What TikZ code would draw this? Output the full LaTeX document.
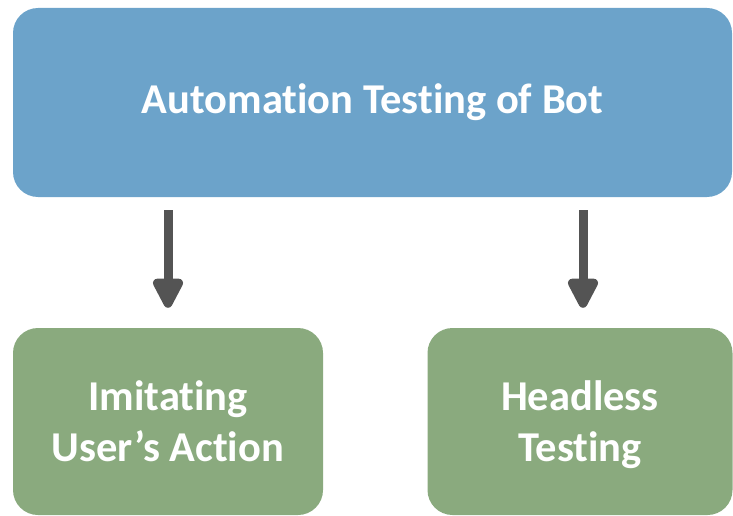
\documentclass[tikz,border=0pt]{standalone}
\usepackage{fontspec}
\setmainfont[RawFeature={-liga;-clig;-dlig;-calt}]{Carlito}
\usetikzlibrary{arrows.meta}

\definecolor{botblue}{HTML}{6CA3CA}
\definecolor{leafgreen}{HTML}{8AAA7E}
\definecolor{arrowgray}{HTML}{545454}

\tikzset{
  box/.style = {rounded corners=25pt, inner sep=0pt, text=white, align=center,
                font=\fontsize{42.5}{51}\selectfont\bfseries},
  leaf/.style = {box, fill=leafgreen, minimum height=187pt, text depth=0pt},
  flow/.style = {arrowgray, line width=9pt,
                 -{Triangle[width=33pt, length=35pt, round]},
                 shorten <=13pt, shorten >=20pt}
}

\begin{document}
\begin{tikzpicture}[x=1pt, y=-1pt]
          \useasboundingbox (0, 0) rectangle (733, 516);

          \node [box, fill=botblue, minimum width=719pt, minimum height=189pt] (bot) at (372.5, 102.5) {Automation Testing of Bot};
          \node [leaf, minimum width=310pt] (imitate) at (168, 421.5) {Imitating\\User’s Action};
          \node [leaf, minimum width=305pt] (headless) at (580, 421.5) {Headless\\Testing};

          \draw [flow] (imitate.north |- bot.south) -- (imitate.north);
          \draw [flow] ([xshift=3pt]headless.north |- bot.south) -- ([xshift=3pt]headless.north);
        \end{tikzpicture}
\end{document}
